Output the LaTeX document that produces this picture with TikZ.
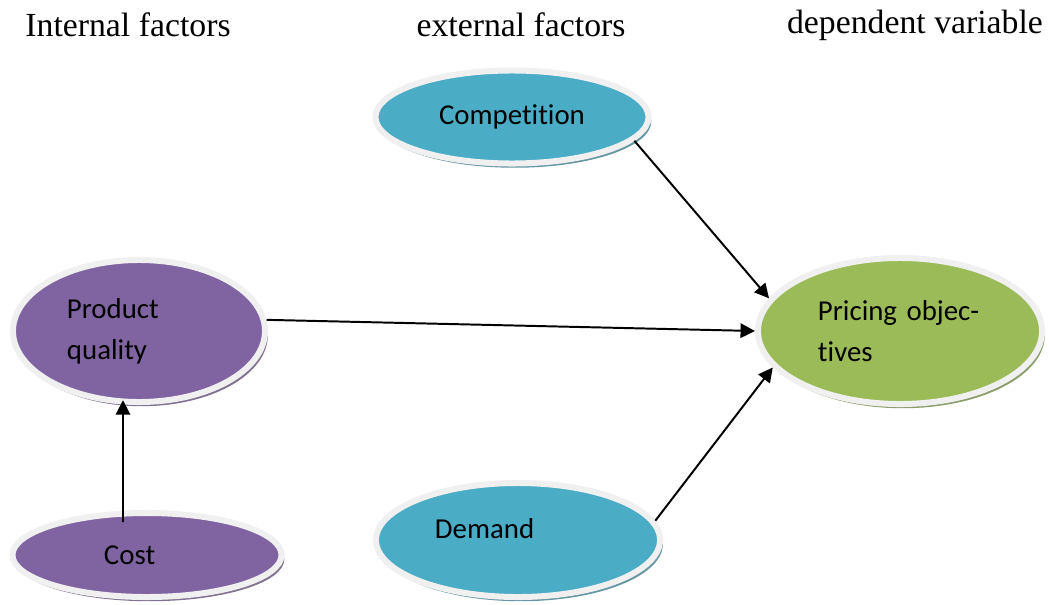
\documentclass[tikz,border=0pt]{standalone}
\usepackage{fontspec}
\setmainfont{Liberation Serif}
\newfontfamily\carlito[Ligatures=NoCommon]{Carlito}
\usetikzlibrary{shapes.geometric,shadows,arrows.meta}
\definecolor{ringgray}{HTML}{F0F0F0}
\definecolor{teal}{HTML}{4BACC6}
\definecolor{violet}{HTML}{8064A2}
\definecolor{olive}{HTML}{9BBB59}
\tikzset{
	fac/.style={ellipse,fill=#1,draw=ringgray,line width=0.15cm,inner sep=0pt,
		font=\carlito\fontsize{20.5}{29}\selectfont,
		drop shadow={shadow xshift=2pt,shadow yshift=-3pt,fill=#1!50!gray,opacity=1}},
	titre/.style={font=\fontsize{24}{28}\selectfont,inner sep=0pt},
	fleche/.style={-{Triangle[length=0.36cm,width=0.36cm]},line width=1.4pt}
}

\begin{document}
\begin{tikzpicture}[x=0.025cm,y=-0.025cm]
	\useasboundingbox (0,0) rectangle (1049,604);

	%titres des colonnes
	\node[titre] (tinterne) at (128,25) {Internal factors};
	\node[titre] (texterne) at (521,25) {external factors};
	\node[titre] (tdependant) at (915,25) {dependent variable};
	%fin

	\node[fac=teal,minimum width=6.825cm,minimum height=2.325cm] (comp) at (512,117) {Competition};
	\node[fac=violet,minimum width=6.3cm,minimum height=3.55cm,text width=3.6cm,align=left] (pq) at (139,331) {Product\\quality};
	\node[fac=olive,minimum width=7.1cm,minimum height=3.65cm,text width=4.1cm,align=left] (pri) at (900,331) {Pricing objec-\\tives};
	\node[fac=violet,minimum width=6.725cm,minimum height=2.1cm,text width=2.15cm,align=left] (cost) at (147,555) {Cost};
	\node[fac=teal,minimum width=7.1cm,minimum height=2.85cm,text width=4.15cm,align=left,text depth=16pt] (dem) at (518,540) {Demand};

	%fleches
	\draw[fleche] ([xshift=-0.6cm,yshift=-0.3cm]cost.north) -- ([xshift=-0.4cm,yshift=0.12cm]pq.south);
	\draw[fleche] (pq.5) -- (pri.west);
	\draw[fleche] (comp.-11) -- (pri.166);
	\draw[fleche] (dem.8) -- (pri.196);
\end{tikzpicture}
\end{document}
